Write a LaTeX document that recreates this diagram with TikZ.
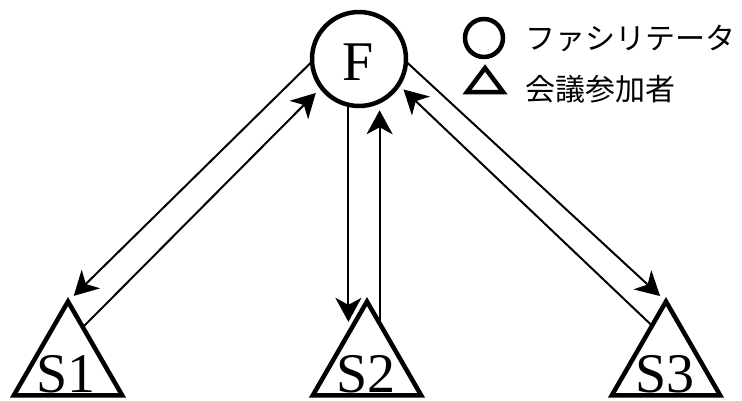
\documentclass[tikz,border=0pt]{standalone}
\usepackage{fontspec}
\setmainfont{Liberation Serif}
\newfontfamily\labelfont{Liberation Serif}
\newfontfamily\jpfont{Noto Sans CJK JP}
\usetikzlibrary{shapes.geometric,arrows.meta,calc}
\begin{document}
\begin{tikzpicture}[x=1pt,y=-1pt,
  facil/.style={circle,draw,line width=4.5pt,minimum size=94pt,inner sep=0pt,outer sep=0pt},
  member/.style={regular polygon,regular polygon sides=3,draw,line width=4.5pt,
                 minimum size=125pt,inner sep=0pt,outer sep=0pt},
  tag/.style={font=\labelfont\fontsize{56}{56}\selectfont,inner sep=0pt},
  flow/.style={line width=2pt,-{Stealth[length=24pt,width=26pt,inset=7pt]}},
  legtext/.style={font=\jpfont\fontsize{30}{30}\selectfont,anchor=west,inner sep=0pt}]
\useasboundingbox (0,0) rectangle (742,400);

% facilitator
\node[facil] (F) at (359,59) {};
\node[tag] (Ft) at (358,62) {F};

% participants
\node[member] (S1) at (68,364) {};
\node[member] (S2) at (367,364) {};
\node[member] (S3) at (666,364) {};
\node[tag] (S1t) at (66,374) {S1};
\node[tag] (S2t) at (366,374) {S2};
\node[tag] (S3t) at (665,374) {S3};

% exchanges between F and each participant
\draw[flow,shorten >=8pt] (F.183) -- (S1.corner 1);
\draw[flow,shorten >=8pt] (S1.68) -- (F.217);
\draw[flow,shorten >=3pt] (F.257) -- (F.257 |- S2.109);
\draw[flow,shorten >=9pt] (F.296 |- S2.74) -- (F.296);
\draw[flow,shorten >=8pt] (F.357) -- (S3.corner 1);
\draw[flow,shorten >=7pt] (S3.110) -- (F.327);

% legend
\node[circle,draw,line width=4.5pt,minimum size=38pt,inner sep=0pt] (LF) at (484,38) {};
\draw[line width=4.5pt,line join=miter] (485,68) -- (503,92) -- (467,92) -- cycle;
\node[legtext] (LFt) at (525,38) {ファシリテータ};
\node[legtext] (LSt) at (525,89) {会議参加者};
\end{tikzpicture}
\end{document}
